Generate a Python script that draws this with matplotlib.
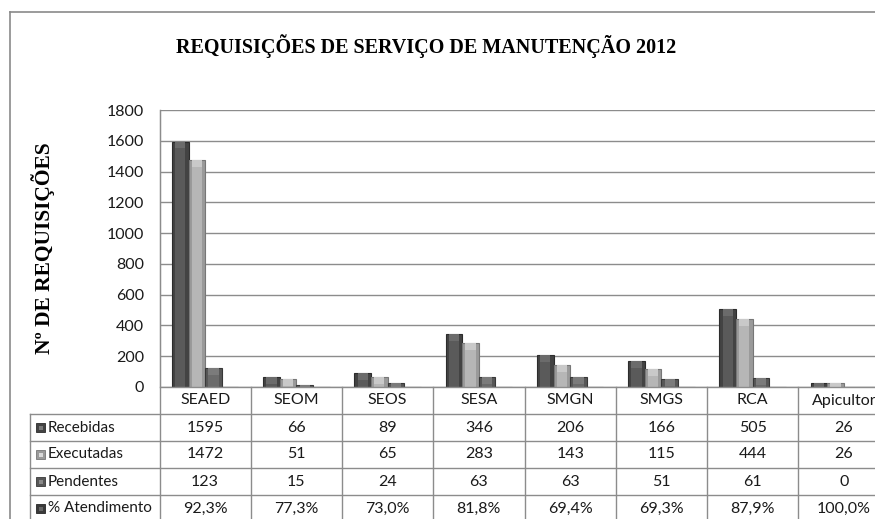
import matplotlib
matplotlib.use("Agg")
import matplotlib.pyplot as plt
from matplotlib.patches import Rectangle
from matplotlib.lines import Line2D
import numpy as np

categories = ['SEAED', 'SEOM', 'SEOS', 'SESA', 'SMGN', 'SMGS', 'RCA', 'Apicultor']
recebidas = [1595, 66, 89, 346, 206, 166, 505, 26]
executadas = [1472, 51, 65, 283, 143, 115, 444, 26]
pendentes = [123, 15, 24, 63, 63, 51, 61, 0]
atendimento = [92.3, 77.3, 73.0, 81.8, 69.4, 69.3, 87.9, 100.0]
series_names = ['Recebidas', 'Executadas', 'Pendentes', '% Atendimento']
yticks = [0, 200, 400, 600, 800, 1000, 1200, 1400, 1600, 1800]

title = 'REQUISIÇÕES DE SERVIÇO DE MANUTENÇÃO 2012'
ylabel = 'Nº DE REQUISIÇÕES'

W, H = 875, 519
fig = plt.figure(figsize=(W / 100, H / 100), dpi=100)
fig.patch.set_facecolor('white')

def fx(px):
    return px / W

def fy(py):
    return 1 - py / H

sans = ['Lato', 'DejaVu Sans']
serif = ['Liberation Serif', 'DejaVu Serif']
grid_c = '#8c8c8c'
border_c = '#8a8a8a'
txt_fs = 11.5

# outer frame (partially cropped)
fig.add_artist(Line2D([fx(10), fx(10)], [fy(12), fy(H + 5)], color=border_c, lw=1.2))
fig.add_artist(Line2D([fx(10), fx(W + 5)], [fy(12), fy(12)], color=border_c, lw=1.2))

# plot area
x_left, x_right = 159.5, 889.5
y_top, y_bot = 110.0, 387.0
ax = fig.add_axes([fx(x_left), fy(y_bot), fx(x_right - x_left), (y_bot - y_top) / H])
ax.set_xlim(-0.5, len(categories) - 0.5)
ax.set_ylim(0, 1800)
ax.set_yticks(yticks)
ax.set_yticklabels([str(v) for v in yticks], family=sans, fontsize=txt_fs, color='#1a1a1a')
ax.tick_params(axis='y', length=0, pad=11)
ax.set_xticks([])
for s in ['top', 'right', 'bottom']:
    ax.spines[s].set_visible(False)
ax.spines['left'].set_color(grid_c)
ax.grid(axis='y', color=grid_c, lw=1.0)
ax.set_axisbelow(True)
ax.set_facecolor('none')

vals = [recebidas, executadas, pendentes, [a / 100 for a in atendimento]]
base_c = ['#434343', '#9a9a9a', '#575757', '#3a3a3a']
mid_c = ['#5a5a5a', '#b6b6b6', '#6b6b6b', '#4a4a4a']
edge_c = ['#2c2c2c', '#777777', '#383838', '#262626']
cap_c = ['#7a7a7a', '#dadada', '#8a8a8a', '#666666']
bw = 0.182
x = np.arange(len(categories))
for i, v in enumerate(vals):
    pos = x + (i - 1.5) * bw
    ax.bar(pos, v, width=bw, color=base_c[i], edgecolor=edge_c[i], lw=0.8, zorder=3)
    ax.bar(pos, v, width=bw * 0.62, color=mid_c[i], lw=0, zorder=4)
    # top bevel: small lighter cap
    cap_h = [min(val, 45) for val in v]
    ax.bar(pos, cap_h, bottom=[val - c for val, c in zip(v, cap_h)], width=bw * 0.62,
           color=cap_c[i], lw=0, zorder=5, alpha=0.55)

# y label and title
fig.text(fx(43), fy(248), ylabel, rotation=90, ha='center', va='center',
         family=serif, fontweight='bold', fontsize=15.5, color='black')
fig.text(fx(426), fy(46), title, ha='center', va='center',
         family=serif, fontweight='bold', fontsize=14.5, color='black')

# data table
col_w = (x_right - x_left) / len(categories)
row_h = 27.0
lab_left = 30.0
rows_top = 414.0
line_kw = dict(color=grid_c, lw=1.0)

# horizontal lines
fig.add_artist(Line2D([fx(x_left), fx(W + 5)], [fy(y_bot), fy(y_bot)], **line_kw))
for r in range(len(series_names) + 1):
    yy = rows_top + r * row_h
    fig.add_artist(Line2D([fx(lab_left), fx(W + 5)], [fy(yy), fy(yy)], **line_kw))
# vertical lines
fig.add_artist(Line2D([fx(lab_left), fx(lab_left)], [fy(rows_top), fy(H + 5)], **line_kw))
for c in range(len(categories) + 1):
    xx = x_left + c * col_w
    y0 = y_top if c == 0 else y_bot
    fig.add_artist(Line2D([fx(xx), fx(xx)], [fy(y0), fy(H + 5)], **line_kw))

# category headers
for c, name in enumerate(categories):
    cx = x_left + (c + 0.5) * col_w
    fig.text(fx(cx), fy(y_bot + 13.5), name, ha='center', va='center',
             family=sans, fontsize=txt_fs, color='#1a1a1a')

table_vals = [
    [str(v) for v in recebidas],
    [str(v) for v in executadas],
    [str(v) for v in pendentes],
    [f"{a:.1f}%".replace('.', ',') for a in atendimento],
]
for r, name in enumerate(series_names):
    cy = rows_top + (r + 0.5) * row_h
    fig.add_artist(Rectangle((fx(36), fy(cy + 4.5)), fx(9), 9 / H,
                             facecolor=base_c[r], edgecolor=edge_c[r], lw=0.6))
    fig.add_artist(Rectangle((fx(38.5), fy(cy + 2)), fx(4), 4 / H,
                             facecolor=cap_c[r], edgecolor='none'))
    fig.text(fx(48), fy(cy), name, ha='left', va='center',
             family=sans, fontsize=11, color='#1a1a1a')
    for c in range(len(categories)):
        cx = x_left + (c + 0.5) * col_w
        fig.text(fx(cx), fy(cy), table_vals[r][c], ha='center', va='center',
                 family=sans, fontsize=txt_fs, color='#1a1a1a')

fig.savefig('out.png', dpi=100, facecolor='white')
